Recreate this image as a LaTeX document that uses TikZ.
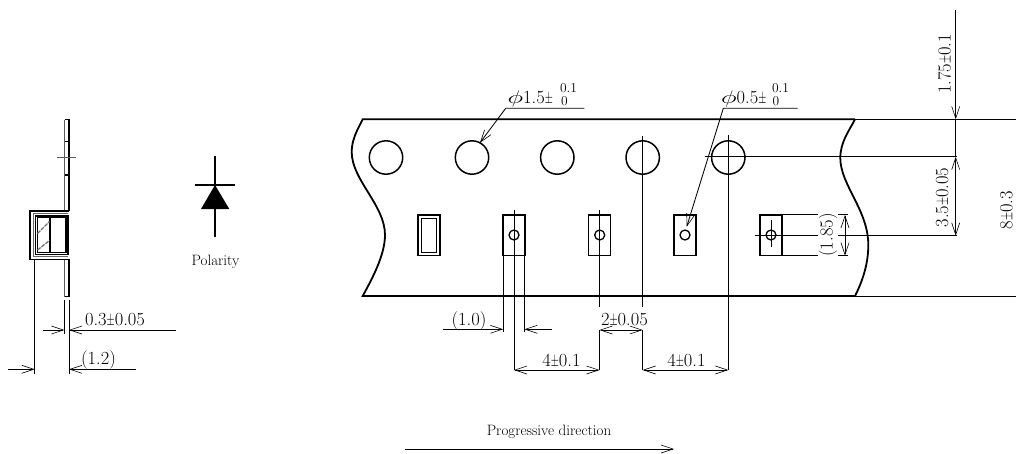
\documentclass[tikz,border=0pt]{standalone}
\usepackage{graphicx}
\usetikzlibrary{arrows.meta}
\newcommand{\philet}{\scalebox{1.55}[1.05]{$\phi$}}
\newcommand{\pmn}{\scalebox{.6}[1]{$\pm$}}
\tikzset{
  x=1pt,y=-1pt,
  thick line/.style={line width=1.8pt,line join=miter},
  med line/.style={line width=1.3pt},
  thin line/.style={line width=0.9pt},
  dim/.style={line width=0.85pt,draw=black},
  tipa/.style={-{Straight Barb[length=12pt,width=8pt,line width=0.6pt]}},
  tipb/.style={{Straight Barb[length=12pt,width=8pt,line width=0.6pt]}-{Straight Barb[length=12pt,width=8pt,line width=0.6pt]}},
  lbl/.style={inner sep=0pt,font=\fontsize{18.5}{19}\selectfont},
  sml/.style={inner sep=0pt,font=\fontsize{13.5}{14}\selectfont},
  plbl/.style={inner sep=0pt,font=\fontsize{15}{16}\selectfont},
}
\begin{document}
\begin{tikzpicture}
\useasboundingbox (0,0) rectangle (1016,453);
% ---- side view
\draw[line width=1.1pt,black!65] (64.5,119.5) -- (64.5,296.5);
\draw[thick line] (64.5,119.5) -- (69,119.5) -- (69,296.5) -- (64.5,296.5);
\draw[med line] (64.5,141.7) -- (69.5,141.7) (64.5,175) -- (69.5,175);
\draw[thin line,black!65] (57,157.7) -- (76,157.7);
\fill[white] (63,211) rectangle (71,259);
\draw[med line] (69,211) -- (30,211) -- (30,259.3) -- (69,259.3);
\draw[line width=.6pt,black!60] (33,213.5) -- (68,213.5) (33,213.5) -- (33,256.7) -- (68,256.7);
\draw[thick line] (35.5,215.7) rectangle (68,254.5);
\draw[med line] (37.5,217.5) rectangle (66,252.3);
\draw[med line] (50,217.5) -- (50,252.3);
\draw[line width=1.3pt,black!55,dash pattern=on 4pt off 1pt] (37.5,233.5) -- (49.5,221.5);
\draw[line width=1.3pt,black!55,dash pattern=on 4pt off 1pt] (37.5,250) -- (49.5,240.5);
\draw[dim] (34.7,259) -- (34.7,374);
\draw[dim] (64.4,300) -- (64.4,334);
\draw[dim] (69,300) -- (69,374);
\draw[dim,tipa] (43.3,330) -- (64.4,330);
\draw[dim,tipa] (175.7,330) -- (69,330);
\draw[dim,tipa] (8,369.3) -- (34.7,369.3);
\draw[dim,tipa] (136,369.3) -- (69,369.3);
\node[lbl] (t03) at (115,320) {0.3\pmn0.05};
\node[lbl] (t12) at (98.5,359.5) {(1.2)};
% ---- polarity
\draw[line width=1.3pt] (215,156) -- (215,236.7);
\draw[line width=1.3pt] (195,185) -- (235,185);
\fill (215,185) -- (229.3,209) -- (201,209) -- cycle;
\node[plbl] (pol) at (215.5,262) {Polarity};
% ---- tape
\draw[thick line] (855,119.3) -- (362.7,119.3)
  .. controls (356,132) and (351.7,141) .. (351.7,152)
  .. controls (351.7,180) and (385,205) .. (385,235)
  .. controls (385,255) and (372,279) .. (362.7,296)
  -- (855,296)
  .. controls (862,282) and (868.3,265) .. (868.3,245)
  .. controls (868.3,210) and (840.3,185) .. (840.3,158)
  .. controls (840.3,142) and (849,131) .. (855,119.3);
\draw[thin line] (855,119.3) -- (1016,119.3) (855,296) -- (1016,296);
% holes
\foreach \cx in {386,472,557.3,642.7,728.3}
  \draw[line width=1.5pt] (\cx,157.5) circle[radius=16.7];
% components
\draw[line width=1.7pt] (417.7,214.9) rectangle (439.7,255.5);
\draw[line width=1pt] (421.5,218.5) rectangle (436,252);
\foreach \cx in {514,599.7,685,771} {
  \draw[line width=1.4pt] (\cx-11,214.9) rectangle (\cx+11,255.5);
  \draw[line width=1.3pt] (\cx,235) circle[radius=5];
}
% centre lines
\draw[dim] (514,210) -- (514,370);
\draw[dim] (599.5,210) -- (599.5,307);
\draw[dim] (599.5,330) -- (599.5,370);
\draw[dim] (642.7,136) -- (642.7,306.7);
\draw[dim] (642.7,330) -- (642.7,370);
\draw[dim] (728.3,135) -- (728.3,370);
\draw[dim] (705,156.7) -- (957,156.7);
\draw[dim] (503.3,256) -- (503.3,331.5);
\draw[dim] (524.4,256) -- (524.4,331.5);
\draw[dim,tipa] (442.7,329.3) -- (503.3,329.3);
\draw[dim,tipa] (552,329.3) -- (524.4,329.3);
\node[lbl] (t10) at (469,320.7) {(1.0)};
\draw[dim,tipb] (599.5,330) -- (642.7,330);
\node[lbl] (t2) at (624.5,320) {2\pmn0.05};
\draw[dim,tipb] (514,370) -- (599.5,370);
\node[lbl] (t4a) at (561.5,361) {4\pmn0.1};
\draw[dim,tipb] (642.7,370) -- (728.3,370);
\node[lbl] (t4b) at (686.5,361) {4\pmn0.1};
% leaders
\draw[dim,tipa] (584.3,108.3) -- (505.7,108.3) -- (480,142.7);
\node[lbl,anchor=west] (t15) at (507.5,98.5) {\philet 1.5\pmn};
\node[sml] (t15a) at (568.5,88.5) {0.1};
\node[sml] (t15b) at (564.5,101) {0};
\draw[dim,tipa] (797.7,108.3) -- (723.3,108.3) -- (686.7,226.7);
\node[lbl,anchor=west] (t05) at (721,98.5) {\philet 0.5\pmn};
\node[sml] (t05a) at (780.5,88.5) {0.1};
\node[sml] (t05b) at (776,101.5) {0};
% right dims
\draw[dim] (782,214.9) -- (818.3,214.9) (838,214.9) -- (848.3,214.9);
\draw[dim] (782,255.6) -- (818.3,255.6) (838,255.6) -- (848.3,255.6);
\draw[dim] (755,235.7) -- (818.3,235.7) (838,235.7) -- (957,235.7);
\draw[dim] (771,220) -- (771,247);
\draw[dim,tipb] (845,214.9) -- (845,255.6);
\node[lbl,rotate=90] (t185) at (828,235) {(1.85)};
\draw[dim,tipa] (955.7,10) -- (955.7,119.3);
\draw[dim] (955.7,119.3) -- (955.7,157);
\draw[dim,tipb] (955.7,156.7) -- (955.7,235.7);
\node[lbl,rotate=90] (t175) at (945,64) {1.75\pmn0.1};
\node[lbl,rotate=90] (t35) at (942.7,197.5) {3.5\pmn0.05};
\node[lbl,rotate=90] (t8) at (1007,210) {8\pmn0.3};
% progressive
\node[plbl] (prog) at (549,432) {Progressive direction};
\coordinate (pa) at (405,449);
\coordinate (pb) at (674,449);
\draw[dim,tipa] (pa) -- (pb);
\end{tikzpicture}
\end{document}
